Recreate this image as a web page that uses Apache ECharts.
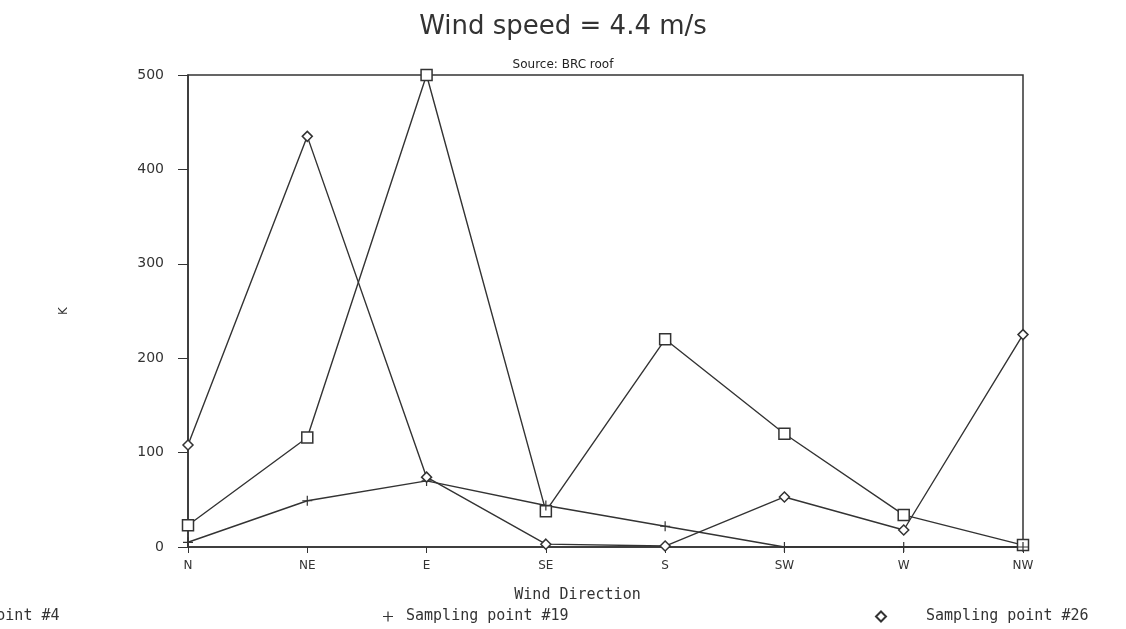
<!DOCTYPE html>
<html>
<head>
<meta charset="utf-8">
<script src="https://cdn.jsdelivr.net/npm/echarts@6/dist/echarts.min.js"></script>
<style>html,body{margin:0;padding:0;background:#fff}#c{width:1126px;height:629px}</style>
</head>
<body>
<div id="c"></div>
<script>
const categories = ['N', 'NE', 'E', 'SE', 'S', 'SW', 'W', 'NW'];
const yTicks = [0, 100, 200, 300, 400, 500];
const seriesNames = ['Sampling point #4', 'Sampling point #19', 'Sampling point #26'];
const point4 = [23, 116, 500, 38, 220, 120, 34, 2];
const point19 = [5, 49, 70, 44, 22, 0, 0, 0];
const point26 = [108, 435, 74, 3, 1, 53, 18, 225];

const INK = '#333';
const FONT = 'DejaVu Sans';
const MONO = 'DejaVu Sans Mono';
const plusPath = 'path://M4.4,0H5.6V4.4H10V5.6H5.6V10H4.4V5.6H0V4.4H4.4Z';

const chart = echarts.init(document.getElementById('c'));
const mkSeries = (name, data, symbol, size, hollow) => ({
  name, type: 'line', data, symbol, symbolSize: size,
  showAllSymbol: true,
  lineStyle: { color: INK, width: 1.4 },
  itemStyle: hollow ? { color: '#fff', borderColor: INK, borderWidth: 1.5 } : { color: INK, borderWidth: 0 },
  emphasis: { disabled: true },
  animation: false
});
const legendText = (pad) => ({ fontFamily: MONO, fontSize: 15, color: '#333', padding: [0, 0, 0, pad] });
chart.setOption({
  backgroundColor: '#fff',
  animation: false,
  title: [
    { text: 'Wind speed = 4.4 m/s', left: 'center', top: 9, padding: [5, 5, 5, 19],
      textStyle: { fontFamily: FONT, fontSize: 26, fontWeight: 'normal', color: '#333' } },
    { text: 'Source: BRC roof', left: 'center', top: 54, padding: [5, 5, 5, 25],
      textStyle: { fontFamily: FONT, fontSize: 12, fontWeight: 'normal', color: '#222' } }
  ],
  legend: [
    { data: [{ name: seriesNames[0], icon: 'rect' }], left: -150, top: 604, itemWidth: 10, itemHeight: 10,
      textStyle: legendText(35) },
    { data: [{ name: seriesNames[1], icon: plusPath }], left: 378, top: 604, itemWidth: 10, itemHeight: 10,
      textStyle: legendText(8) },
    { data: [{ name: seriesNames[2], icon: 'diamond' }], left: 870, top: 604, itemWidth: 10, itemHeight: 10,
      textStyle: legendText(35) }
  ],
  grid: { left: 188, top: 75, right: 103, bottom: 82, show: true, borderColor: INK, borderWidth: 1.5, backgroundColor: 'transparent', containLabel: false },
  xAxis: {
    type: 'category', data: categories, boundaryGap: false,
    name: 'Wind Direction', nameLocation: 'middle', nameGap: 41,
    nameTextStyle: { fontFamily: MONO, fontSize: 15, color: '#333', padding: [0, 56, 0, 0] },
    axisLine: { lineStyle: { color: INK, width: 1.5 } },
    axisTick: { show: true, alignWithLabel: true, length: 6, lineStyle: { color: INK } },
    axisLabel: { fontFamily: FONT, fontSize: 12, color: '#333', margin: 13 },
    splitLine: { show: false }
  },
  yAxis: {
    type: 'value', min: 0, max: 500, interval: 100,
    name: 'K', nameLocation: 'middle', nameGap: 118,
    nameTextStyle: { fontFamily: FONT, fontSize: 12, color: '#333' },
    axisLine: { show: true, lineStyle: { color: INK, width: 1.5 } },
    axisTick: { show: true, length: 10, lineStyle: { color: INK } },
    axisLabel: { fontFamily: FONT, fontSize: 14, color: '#333', margin: 24,
      formatter: v => yTicks.includes(v) ? String(v) : '' },
    splitLine: { show: false }
  },
  series: [
    mkSeries(seriesNames[0], point4, 'rect', 11, true),
    mkSeries(seriesNames[1], point19, plusPath, 10, false),
    mkSeries(seriesNames[2], point26, 'diamond', 10, true)
  ]
});
</script>
</body>
</html>
